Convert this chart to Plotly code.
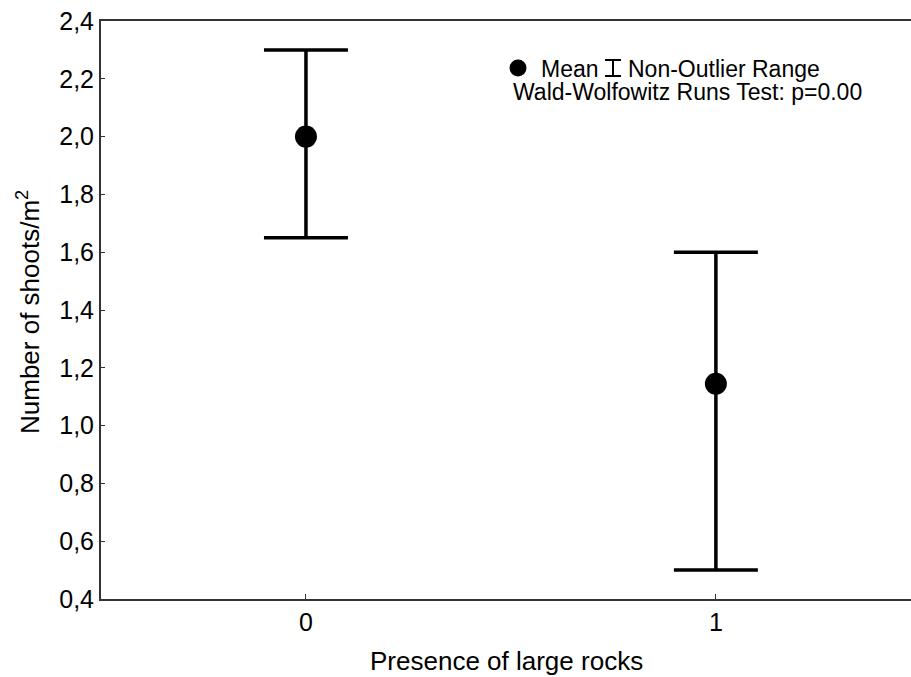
import plotly.graph_objects as go

# Group means with their non-outlier ranges
groups = [0, 1]
means = [2.0, 1.145]
range_high = [2.30, 1.60]
range_low = [1.65, 0.50]

y_ticks = [0.4, 0.6, 0.8, 1.0, 1.2, 1.4, 1.6, 1.8, 2.0, 2.2, 2.4]

FONT = "Liberation Sans, Arial, sans-serif"
W, H = 911, 677
ML, MR, MT, MB = 101, 0, 21, 78
PW, PH = W - ML - MR, H - MT - MB


def px(x):
    return (x - ML) / PW


def py(y):
    return (H - MB - y) / PH


err_plus = [h - m for h, m in zip(range_high, means)]
err_minus = [m - l for m, l in zip(means, range_low)]

fig = go.Figure()
fig.add_trace(go.Scatter(
    x=groups, y=means, mode="markers",
    marker=dict(size=22, color="black"),
    error_y=dict(type="data", symmetric=False, array=err_plus,
                 arrayminus=err_minus, width=42, thickness=3.5,
                 color="black"),
    showlegend=False, hoverinfo="skip",
))

# Legend block drawn as shapes and text
shapes = [
    dict(type="circle", xref="paper", yref="paper",
         x0=px(509.5), x1=px(526.5), y0=py(76.5), y1=py(59.5),
         fillcolor="black", line=dict(color="black", width=0)),
    dict(type="line", xref="paper", yref="paper",
         x0=px(613), x1=px(613), y0=py(60), y1=py(76),
         line=dict(color="black", width=2)),
    dict(type="line", xref="paper", yref="paper",
         x0=px(605), x1=px(621), y0=py(60), y1=py(60),
         line=dict(color="black", width=2)),
    dict(type="line", xref="paper", yref="paper",
         x0=px(605), x1=px(621), y0=py(76), y1=py(76),
         line=dict(color="black", width=2)),
]

ann_font = dict(family=FONT, size=23, color="black")
annotations = [
    dict(text="Mean", x=px(539), y=py(69), xref="paper", yref="paper",
         xanchor="left", yanchor="middle", showarrow=False, font=ann_font),
    dict(text="Non-Outlier Range", x=px(626), y=py(69), xref="paper",
         yref="paper", xanchor="left", yanchor="middle", showarrow=False,
         font=ann_font),
    dict(text="Wald-Wolfowitz Runs Test: p=0.00", x=px(511), y=py(92),
         xref="paper", yref="paper", xanchor="left", yanchor="middle",
         showarrow=False, font=ann_font),
    dict(text="Presence of large rocks", x=px(506), y=py(661),
         xref="paper", yref="paper", xanchor="center", yanchor="middle",
         showarrow=False, font=dict(family=FONT, size=26, color="black")),
    dict(text="Number of shoots/m<sup>2</sup>", x=px(28), y=py(312),
         xref="paper", yref="paper", xanchor="center", yanchor="middle",
         textangle=-90, showarrow=False,
         font=dict(family=FONT, size=26, color="black")),
]

fig.update_layout(
    width=W, height=H,
    margin=dict(l=ML, r=MR, t=MT, b=MB, pad=0),
    paper_bgcolor="white", plot_bgcolor="white",
    separators=",.",
    font=dict(family=FONT, size=25, color="black"),
    shapes=shapes, annotations=annotations,
    xaxis=dict(range=[-0.5, 1.476], tickvals=groups, ticktext=["0", "1"],
               ticks="inside", ticklen=5, tickwidth=1, tickcolor="#333",
               showline=True, linecolor="#333", linewidth=2, mirror=True,
               showgrid=False, zeroline=False,
               tickfont=dict(family=FONT, size=25, color="black")),
    yaxis=dict(range=[0.4, 2.4], tickvals=y_ticks, tickformat=".1f",
               ticks="inside", ticklen=4, tickwidth=1, tickcolor="#333",
               showline=True, linecolor="#333", linewidth=2,
               showgrid=False, zeroline=False,
               tickfont=dict(family=FONT, size=25, color="black")),
)

fig.write_html("out.html")
